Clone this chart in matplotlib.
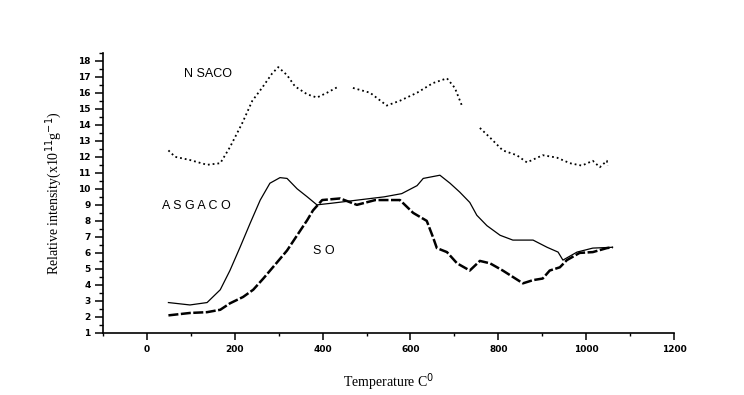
import numpy as np
import matplotlib.pyplot as plt

# Values (temperature in C, intensity x10^11 g^-1)
nsaco_t = [49, 64, 98, 137, 167, 189, 217, 240, 262, 285, 299, 319, 337, 365, 387, 410, 437,
           452,
           469, 508, 546, 576, 615, 651, 683, 701, 717,
           737,
           758, 781, 810, 842, 865, 901, 933, 963, 990, 1015, 1031, 1047, 1049]
nsaco_i = [12.4, 12.0, 11.8, 11.5, 11.6, 12.6, 14.1, 15.5, 16.3, 17.2, 17.6, 17.1, 16.4, 15.9, 15.7, 16.0, 16.4,
           np.nan,
           16.3, 16.0, 15.2, 15.5, 16.0, 16.6, 16.9, 16.3, 15.2,
           np.nan,
           13.8, 13.2, 12.4, 12.1, 11.65, 12.1, 11.95, 11.6, 11.45, 11.75, 11.35, 11.75, 11.45]

asgaco_t = [49, 98, 137, 167, 189, 212, 235, 258, 280, 303, 319, 342, 365, 387, 420, 480, 540,
            580, 615, 629, 667, 690, 712, 735, 751, 774, 804, 833, 879, 911, 936, 947, 979, 1015, 1060]
asgaco_i = [2.9, 2.75, 2.9, 3.7, 4.9, 6.35, 7.85, 9.3, 10.35, 10.7, 10.65, 10.0, 9.5, 9.0, 9.1, 9.3, 9.5,
            9.7, 10.2, 10.65, 10.85, 10.35, 9.8, 9.15, 8.35, 7.7, 7.1, 6.8, 6.8, 6.35, 6.05, 5.55, 6.05, 6.3, 6.35]

so_t = [49, 98, 137, 167, 189, 219, 242, 265, 296, 319, 342, 365, 378, 399, 440, 478, 520, 576,
        606, 637, 651, 660, 683, 706, 735, 758, 781, 810, 833, 856, 879, 901, 917, 940, 956, 985, 1015, 1047, 1060]
so_i = [2.1, 2.25, 2.3, 2.45, 2.85, 3.25, 3.7, 4.4, 5.4, 6.15, 7.1, 8.05, 8.65, 9.3, 9.4, 9.0, 9.3, 9.3,
        8.5, 8.0, 7.0, 6.3, 6.05, 5.35, 4.9, 5.5, 5.35, 4.9, 4.5, 4.1, 4.3, 4.4, 4.9, 5.1, 5.55, 6.0, 6.05, 6.3, 6.35]

x_ticks = [0, 200, 400, 600, 800, 1000, 1200]
y_ticks = list(range(1, 19))

fig = plt.figure(figsize=(7.44, 3.95), dpi=100)
ax = fig.add_axes([0.1384, 0.157, 0.7676, 0.7096])

ax.plot(nsaco_t, nsaco_i, color='black', linestyle=':', linewidth=1.3)
ax.plot(asgaco_t, asgaco_i, color='black', linestyle='-', linewidth=0.9)
ax.plot(so_t, so_i, color='black', linestyle=(0, (4, 1)), linewidth=1.8)

ax.text(139, 17.2, 'N SACO', fontsize=9, family='Liberation Sans', ha='center', va='center')
ax.text(113, 8.9, 'A S G A C O', fontsize=9, family='Liberation Sans', ha='center', va='center')
ax.text(402, 6.1, 'S O', fontsize=9, family='Liberation Sans', ha='center', va='center')

ax.set_xlim(-100, 1200)
ax.set_ylim(1, 18.45)
ax.set_xticks(x_ticks)
ax.set_xticks(np.arange(-100, 1201, 100), minor=True)
ax.set_yticks(y_ticks)
ax.set_yticks(np.arange(1, 18.6, 0.5), minor=True)

ax.spines['top'].set_visible(False)
ax.spines['right'].set_visible(False)
for s in ['left', 'bottom']:
    ax.spines[s].set_linewidth(1.2)

ax.tick_params(axis='x', which='major', direction='out', length=5, width=1.1, pad=4, labelsize=6.5)
ax.tick_params(axis='x', which='minor', direction='out', length=2.5, width=1.0)
ax.tick_params(axis='y', which='major', direction='out', length=6, width=1.1, pad=3, labelsize=6.5)
ax.tick_params(axis='y', which='minor', direction='out', length=3, width=1.0)
for lab in ax.get_xticklabels() + ax.get_yticklabels():
    lab.set_fontweight('bold')

ax.set_xlabel('Temperature C$^{0}$', family='Liberation Serif', fontsize=10, labelpad=12)
ax.set_ylabel('Relative intensity(x10$^{11}$g$^{-1}$)', family='Liberation Serif', fontsize=10, labelpad=10)

fig.savefig('out.png', dpi=100)
